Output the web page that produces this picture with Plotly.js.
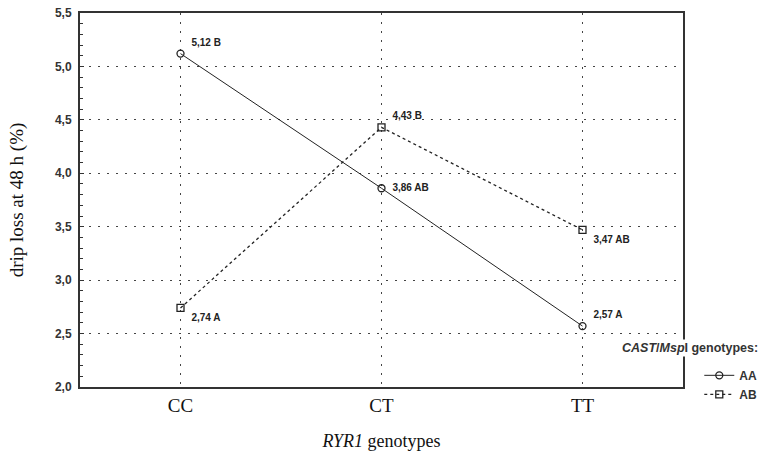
<!DOCTYPE html>
<html>
<head>
<meta charset="utf-8">
<script src="https://cdn.plot.ly/plotly-3.0.1.min.js"></script>
<style>html,body{margin:0;padding:0;background:#fff;}#chart{width:768px;height:457px;}</style>
</head>
<body>
<div id="chart"></div>
<script>
const categories = ["CC", "CT", "TT"];
const seriesNames = ["AA", "AB"];
const valuesAA = [5.12, 3.86, 2.57];
const valuesAB = [2.74, 4.43, 3.47];
const lettersAA = ["B", "AB", "A"];
const lettersAB = ["A", "B", "AB"];
const yTickVals = [2.0, 2.5, 3.0, 3.5, 4.0, 4.5, 5.0, 5.5];
const yTickText = ["2,0", "2,5", "3,0", "3,5", "4,0", "4,5", "5,0", "5,5"];

function labels(vals, letters) {
  return vals.map((v, i) => "\u00a0\u00a0" + v.toFixed(2).replace(".", ",") + " " + letters[i]);
}

const labelFont = {family: "Arial, Liberation Sans, sans-serif", size: 10, color: "#222", weight: "bold"};
const serif = "Liberation Serif, Times New Roman, serif";

const traces = [
  {
    x: categories, y: valuesAA, name: seriesNames[0],
    type: "scatter", mode: "lines+markers+text",
    text: labels(valuesAA, lettersAA),
    textposition: ["top right", "middle right", "top right"],
    textfont: labelFont,
    line: {color: "#222", width: 1},
    marker: {symbol: "circle-open", size: 7, color: "#222", line: {width: 1.3}},
    cliponaxis: false
  },
  {
    x: categories, y: valuesAB, name: seriesNames[1],
    type: "scatter", mode: "lines+markers+text",
    text: labels(valuesAB, lettersAB),
    textposition: ["bottom right", "top right", "bottom right"],
    textfont: labelFont,
    line: {color: "#222", width: 1.3, dash: "dot"},
    marker: {symbol: "square-open", size: 7, color: "#222", line: {width: 1.3}},
    cliponaxis: false
  }
];

const layout = {
  width: 768, height: 457,
  margin: {l: 80, r: 85, t: 13, b: 70, autoexpand: false},
  paper_bgcolor: "#fff", plot_bgcolor: "#fff",
  showlegend: true,
  xaxis: {
    type: "category",
    range: [-0.5, 2.5],
    showline: true, linecolor: "#333", linewidth: 2, mirror: true,
    showgrid: true, gridcolor: "#444", griddash: "2px,7px", gridwidth: 1,
    ticks: "", zeroline: false,
    tickfont: {family: serif, size: 19, color: "#111"},
    title: {text: "<i>RYR1</i> genotypes", standoff: 20,
            font: {family: serif, size: 18, color: "#111"}}
  },
  yaxis: {
    range: [2.0, 5.5],
    tickvals: yTickVals, ticktext: yTickText,
    showline: true, linecolor: "#333", linewidth: 2, mirror: true,
    showgrid: true, gridcolor: "#444", griddash: "2px,7px", gridwidth: 1,
    zeroline: false,
    ticks: "inside", ticklen: 4, tickcolor: "#333",
    ticklabelstandoff: 4,
    minor: {dtick: 0.1, ticks: "inside", ticklen: 3, tickcolor: "#333", showgrid: false},
    tickfont: {family: "Arial, Liberation Sans, sans-serif", size: 12, color: "#333", weight: "bold"},
    title: {text: "drip loss at 48 h (%)", standoff: 26,
            font: {family: serif, size: 19, color: "#111"}}
  },
  legend: {
    x: 1.027, xanchor: "left", y: 0.07, yanchor: "top",
    bgcolor: "rgba(255,255,255,0)", borderwidth: 0,
    font: {family: "Arial, Liberation Sans, sans-serif", size: 12, color: "#333", weight: "bold"},
    itemwidth: 30, tracegroupgap: 0
  },
  annotations: [
    {
      xref: "paper", yref: "paper", x: 0.8955, y: 0.104, xanchor: "left", yanchor: "middle",
      text: "<i>CAST</i>/<i>Msp</i>I genotypes:", showarrow: false,
      bgcolor: "#fff",
      font: {family: "Arial, Liberation Sans, sans-serif", size: 12.5, color: "#333", weight: "bold"}
    }
  ]
};

Plotly.newPlot("chart", traces, layout, {displayModeBar: false, staticPlot: true});
</script>
</body>
</html>
